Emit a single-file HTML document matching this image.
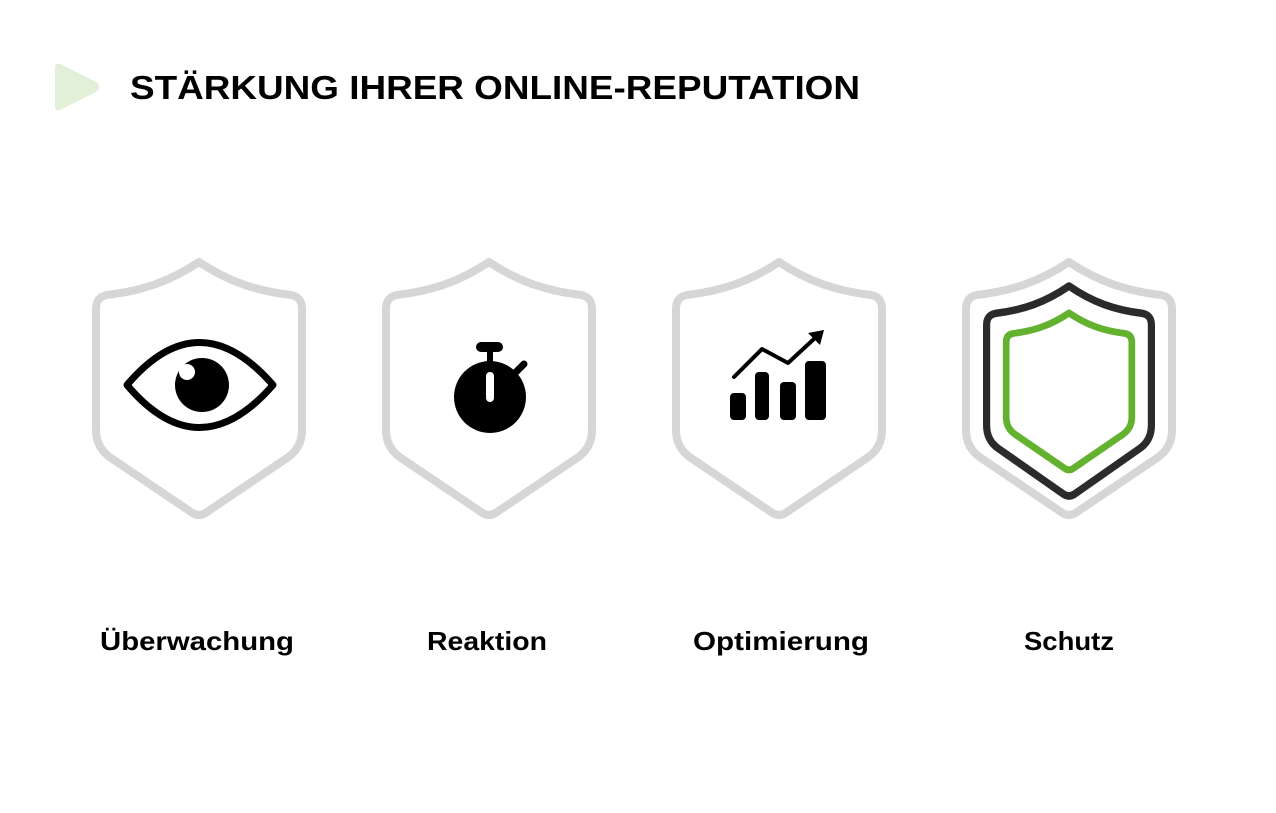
<!DOCTYPE html>
<html><head><meta charset="utf-8"><style>
html,body{margin:0;padding:0;background:#fff;}
body{width:1276px;height:808px;overflow:hidden;}
</style></head><body>
<svg width="1276" height="808" viewBox="0 0 1276 808" xmlns="http://www.w3.org/2000/svg">
<defs>
<path id="sh" d="M0,0 C-30,20 -58,29 -92,33 Q-103,35 -103,47 L-103,168 Q-103,186 -88,196 L-8,250 Q0,256 8,250 L88,196 Q103,186 103,168 L103,47 Q103,35 92,33 C58,29 30,20 0,0 Z"/>
</defs>
<path d="M60,64 L96,82 Q102,87 96,92 L60,110 Q55,112 55,106 L55,68 Q55,62 60,64 Z" fill="#e2efd9"/>
<text x="130" y="99" font-family="Liberation Sans, sans-serif" font-weight="bold" font-size="33" textLength="730" lengthAdjust="spacingAndGlyphs" fill="#000">STÄRKUNG IHRER ONLINE-REPUTATION</text>

<g fill="none" stroke="#d6d6d6" stroke-width="8" stroke-linejoin="round">
<use href="#sh" x="199" y="262"/>
<use href="#sh" x="489" y="262"/>
<use href="#sh" x="779" y="262"/>
<use href="#sh" x="1069" y="262"/>
</g>
<g fill="none" stroke-linejoin="round">
<use href="#sh" transform="translate(1069,286) scale(0.8,0.83)" stroke="#2b2b2d" stroke-width="9"/>
<use href="#sh" transform="translate(1069,313) scale(0.61,0.62)" stroke="#62b22f" stroke-width="11"/>
</g>

<!-- eye -->
<path d="M127,385 Q199,300 273,385 Q199,470 127,385 Z" fill="none" stroke="#000" stroke-width="7" stroke-linejoin="round"/>
<circle cx="202" cy="385" r="27" fill="#000"/>
<circle cx="187" cy="372" r="8" fill="#fff"/>

<!-- stopwatch -->
<circle cx="490" cy="397" r="36" fill="#000"/>
<rect x="476" y="342" width="27" height="10" rx="5" fill="#000"/>
<rect x="487" y="350" width="6" height="14" fill="#000"/>
<line x1="516" y1="372" x2="524" y2="364" stroke="#000" stroke-width="7" stroke-linecap="round"/>
<rect x="486" y="372" width="8" height="30" rx="4" fill="#fff"/>

<!-- chart -->
<rect x="730" y="393" width="16" height="27" rx="4" fill="#000"/>
<rect x="755" y="372" width="14" height="48" rx="4" fill="#000"/>
<rect x="780" y="382" width="16" height="38" rx="4" fill="#000"/>
<rect x="805" y="361" width="21" height="59" rx="4" fill="#000"/>
<polyline points="734,377 762,349 788,363 815,338" fill="none" stroke="#000" stroke-width="4" stroke-linecap="round" stroke-linejoin="round"/>
<path d="M824,330 L808,333 L820,345 Z" fill="#000"/>

<g font-family="Liberation Sans, sans-serif" font-weight="bold" font-size="26" fill="#000">
<text x="100" y="650" textLength="194" lengthAdjust="spacingAndGlyphs">Überwachung</text>
<text x="427" y="650" textLength="120" lengthAdjust="spacingAndGlyphs">Reaktion</text>
<text x="693" y="650" textLength="176" lengthAdjust="spacingAndGlyphs">Optimierung</text>
<text x="1024" y="650" textLength="90" lengthAdjust="spacingAndGlyphs">Schutz</text>
</g>
</svg>
</body></html>
